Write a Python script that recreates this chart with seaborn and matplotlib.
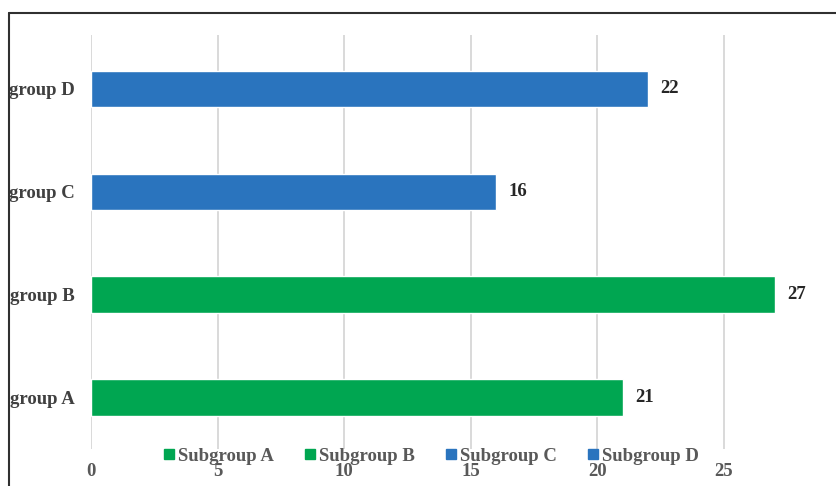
import matplotlib
matplotlib.use("Agg")
import matplotlib.pyplot as plt
from matplotlib.lines import Line2D
import seaborn as sns
import pandas as pd

groups = ["group D", "group C", "group B", "group A"]
values = [22, 16, 27, 21]
subgroups = ["Subgroup D", "Subgroup C", "Subgroup B", "Subgroup A"]
legend_order = ["Subgroup A", "Subgroup B", "Subgroup C", "Subgroup D"]
palette = {"Subgroup A": "#00A651", "Subgroup B": "#00A651",
           "Subgroup C": "#2A74BE", "Subgroup D": "#2A74BE"}
xticks = [0, 5, 10, 15, 20, 25]

df = pd.DataFrame({"group": groups, "value": values, "subgroup": subgroups})

sns.set_theme(style="white")
plt.rcParams["font.family"] = ["Liberation Serif", "DejaVu Serif"]
plt.rcParams["font.weight"] = "bold"

W, H = 837, 486
fig = plt.figure(figsize=(W / 100, H / 100), dpi=100)
ax = fig.add_axes([91 / W, 1 - 449 / H, (W - 91) / W, (449 - 35) / H])

sns.barplot(data=df, y="group", x="value", hue="subgroup", order=groups,
            hue_order=legend_order, palette=palette, dodge=False, width=0.35,
            orient="h", ax=ax, legend=True, saturation=1)

ax.set_xlim(0, (W - 91) / 25.32)
ax.set_ylim(3.5, -0.52)
ax.set_xticks(xticks)
ax.set_xticklabels([str(t) for t in xticks])
ax.set_xlabel("")
ax.set_ylabel("")
for s in ax.spines.values():
    s.set_visible(False)
ax.grid(axis="x", color="#D9D9D9", linewidth=1.4)
ax.grid(axis="y", visible=False)
ax.set_axisbelow(True)
ax.tick_params(axis="x", length=0, pad=10, labelsize=13.5, labelcolor="#595959")
ax.tick_params(axis="y", length=0, pad=12, labelsize=13.5, labelcolor="#404040")
for lbl in ax.get_xticklabels() + ax.get_yticklabels():
    lbl.set_fontweight("bold")

for cont in ax.containers:
    ax.bar_label(cont, padding=9, fontsize=13.5, fontweight="bold", color="#262626")

handles = [Line2D([], [], marker="s", linestyle="", markersize=7,
                  color=palette[s]) for s in legend_order]
ax.legend(handles, legend_order, loc="center", bbox_to_anchor=(431 / W, 1 - 456 / H),
          bbox_transform=fig.transFigure, ncol=4, frameon=False,
          handlelength=0.6, handletextpad=0.2, columnspacing=1.6,
          prop={"family": "Liberation Serif", "weight": "bold", "size": 13.5},
          labelcolor="#595959")

fig.add_artist(Line2D([9 / W, 9 / W], [0, 1 - 13 / H], transform=fig.transFigure,
                      color="#303030", linewidth=1.5))
fig.add_artist(Line2D([9 / W, 1], [1 - 13 / H, 1 - 13 / H], transform=fig.transFigure,
                      color="#303030", linewidth=1.5))

fig.savefig("out.png", dpi=100)
